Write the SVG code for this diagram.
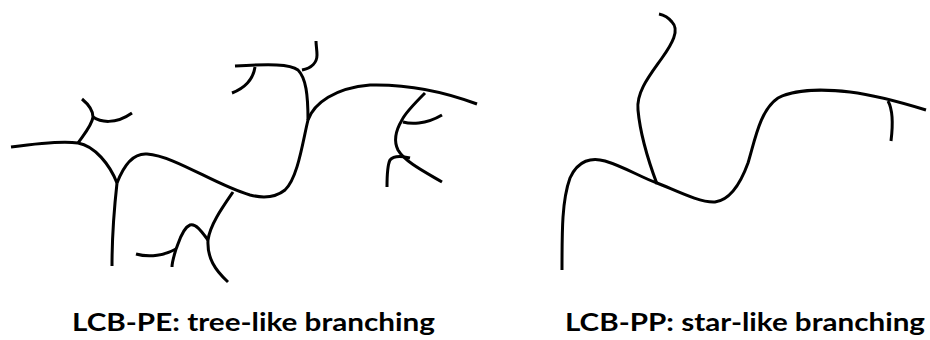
<svg xmlns="http://www.w3.org/2000/svg" width="930" height="340" viewBox="0 0 930 340">
<style>
.ch{fill:none;stroke:#000;stroke-width:3;stroke-linecap:butt;stroke-linejoin:round}
.lb{font-family:Lato,"Open Sans","Liberation Sans",sans-serif;font-weight:bold;font-size:25px;fill:#000}
</style>
<rect width="930" height="340" fill="#fff"/>
<g id="tree-like">
<path class="ch" d="M11,147 C40,143 65,141 78,143 C95,146 110,165 117,183"/>
<path class="ch" d="M117,183 C125,162 135,153 147,154 C175,156 215,185 250,195 C262,198 275,198 285,190 C298,178 303,140 308,120 C314,103 335,88 370,85 C410,84 445,92 477,104"/>
<path class="ch" d="M117,183 C114,210 112,240 112,266"/>
<path class="ch" d="M78,143 C85,133 92,125 93,117 C93,110 88,104 82,99"/>
<path class="ch" d="M93,117 C100,122 115,125 132,113"/>
<path class="ch" d="M233,192 C222,208 210,225 208,240 C207,258 215,270 228,282"/>
<path class="ch" d="M208,240 C202,232 196,223 190,225 C182,228 178,245 176,249 C174,256 172,262 172,267"/>
<path class="ch" d="M176,249 C165,255 150,258 136,254"/>
<path class="ch" d="M308,120 C308,95 306,78 298,70 C290,64 270,64 235,66"/>
<path class="ch" d="M302,70 C312,68 317,62 317,55 C317,50 316,45 316,41"/>
<path class="ch" d="M255,67 C253,80 245,88 232,93"/>
<path class="ch" d="M425,93 C415,103 405,113 402,120 C396,130 393,140 398,150 C405,162 425,172 442,182"/>
<path class="ch" d="M403,122 C410,124 425,125 442,115"/>
<path class="ch" d="M410,158 C402,156 394,155 390,160 C387,166 387,177 387,187"/>
</g>
<g id="star-like">
<path class="ch" d="M562,270 C562,230 562,200 570,178 C578,160 592,157 605,161 C625,167 640,177 657,183 C675,190 700,203 715,202 C730,200 740,185 748,163 C755,140 760,110 778,98 C795,89 825,89 850,92 C875,95 900,102 926,110"/>
<path class="ch" d="M657,184 C648,160 640,132 638,110 C636,92 650,75 662,58 C672,44 680,30 672,22 C668,17 664,15 659,14"/>
<path class="ch" d="M888,101 C893,110 893,125 891,141"/>
</g>
<g id="labels">
<text class="lb" x="72" y="331" textLength="363" lengthAdjust="spacingAndGlyphs">LCB-PE: tree-like branching</text>
<text class="lb" x="565" y="331" textLength="360" lengthAdjust="spacingAndGlyphs">LCB-PP: star-like branching</text>
</g>
</svg>
